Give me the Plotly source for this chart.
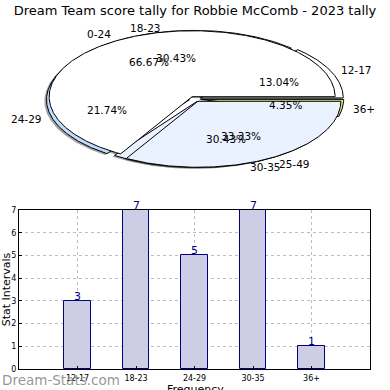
import numpy as np
import plotly.graph_objects as go

# ---------------- data ----------------
title_text = "Dream Team score tally for Robbie McComb - 2023 tally"
categories = ["12-17", "18-23", "24-29", "30-35", "36+"]
frequency = [3, 7, 5, 7, 1]
pie1_colors = ["#ffffff", "#ffffff", "#bfdcff", "#ebf2ff", "#d6ea78"]

pie2_labels = ["0-24", "25-49"]
pie2_values = [2, 1]
pie2_colors = ["#ffffff", "#ebf2ff"]

# ---------------- geometry (pixels) ----------------
CX, CY, A, B = 195.0, 99.0, 143.0, 66.0
EXPLODE = 0.04
FONT = "DejaVu Sans"

fig = go.Figure()


def pie_slices(values):
    vals = np.asarray(values, dtype=float)
    fr = vals / vals.sum()
    t = np.concatenate([[0.0], np.cumsum(fr)]) * 360.0
    out = []
    for i in range(len(vals)):
        t1, t2 = t[i], t[i + 1]
        tm = np.deg2rad((t1 + t2) / 2)
        cx = CX + EXPLODE * A * np.cos(tm)
        cy = CY - EXPLODE * B * np.sin(tm)
        out.append((t1, t2, tm, cx, cy, fr[i]))
    return out


def wedge_xy(cx, cy, t1, t2):
    th = np.deg2rad(np.linspace(t1, t2, max(int(abs(t2 - t1) * 2), 4)))
    xs = np.concatenate([[cx], cx + A * np.cos(th), [cx]])
    ys = np.concatenate([[cy], cy - B * np.sin(th), [cy]])
    return xs, ys


s1 = pie_slices(frequency)
s2 = pie_slices(pie2_values)

# shadows first
for sl in s1 + s2:
    t1, t2, tm, cx, cy, f = sl
    xs, ys = wedge_xy(cx - 0.015 * A, cy + 0.02 * B, t1, t2)
    fig.add_trace(go.Scatter(x=xs, y=ys, xaxis="x2", yaxis="y2", mode="lines",
                             fill="toself", fillcolor="rgba(70,70,70,0.5)",
                             line=dict(width=0), hoverinfo="skip", showlegend=False))

for sls, cols in ((s1, pie1_colors), (s2, pie2_colors)):
    for sl, col in zip(sls, cols):
        t1, t2, tm, cx, cy, f = sl
        xs, ys = wedge_xy(cx, cy, t1, t2)
        fig.add_trace(go.Scatter(x=xs, y=ys, xaxis="x2", yaxis="y2", mode="lines",
                                 fill="toself", fillcolor=col,
                                 line=dict(color="black", width=1),
                                 hoverinfo="skip", showlegend=False))

# labels (outer labels of first pie sit at the un-exploded centre)
for sls, labs, outer_from_center in ((s1, categories, True), (s2, pie2_labels, False)):
    for sl, lab in zip(sls, labs):
        t1, t2, tm, cx, cy, f = sl
        bx, by = (CX, CY) if outer_from_center else (cx, cy)
        lx = bx + 1.1 * A * np.cos(tm)
        ly = by - 1.1 * B * np.sin(tm)
        fig.add_annotation(x=lx, y=ly, xref="x2", yref="y2", text=lab, showarrow=False,
                           xanchor="left" if np.cos(tm) > 0 else "right", yanchor="middle",
                           font=dict(family=FONT, size=10.5, color="black"))
        px = cx + 0.6 * A * np.cos(tm)
        py = cy - 0.6 * B * np.sin(tm)
        fig.add_annotation(x=px, y=py, xref="x2", yref="y2", text=f"{f*100:.2f}%",
                           showarrow=False, xanchor="center", yanchor="middle",
                           font=dict(family=FONT, size=10.5, color="black"))

# ---------------- bar chart ----------------
fig.add_trace(go.Bar(x=categories, y=frequency, width=0.45,
                     marker=dict(color="#cdcde6", line=dict(color="#000080", width=1)),
                     showlegend=False, hoverinfo="skip"))
for c, v in zip(categories, frequency):
    fig.add_annotation(x=c, y=v, xref="x", yref="y", text=str(v), showarrow=False,
                       yanchor="bottom", yshift=-4,
                       font=dict(family=FONT, size=11, color="#000080"))

fig.add_annotation(x=0, y=10 / 390, xref="paper", yref="paper", text="Dream-Stats.com",
                   showarrow=False, xanchor="left", yanchor="middle",
                   font=dict(family=FONT, size=13.5, color="rgba(130,130,130,0.85)"))
fig.add_annotation(x=195 / 390, y=1 / 390, xref="paper", yref="paper", text="Frequency",
                   showarrow=False, xanchor="center", yanchor="middle",
                   font=dict(family=FONT, size=11, color="black"))

grid = dict(showgrid=True, gridcolor="#bdbdbd", griddash="dot", gridwidth=1)
fig.update_layout(
    width=390, height=390,
    margin=dict(l=0, r=0, t=0, b=0, autoexpand=False),
    paper_bgcolor="white", plot_bgcolor="rgba(0,0,0,0)",
    title=dict(text=title_text, x=0.5, xanchor="center", y=1 - 10 / 390, yanchor="middle",
               font=dict(family=FONT, size=13, color="black")),
    bargap=0,
    xaxis=dict(domain=[19 / 390, 370 / 390], anchor="y", type="category", range=[-1, 5],
               automargin=False,
               showline=True, linecolor="black", linewidth=1, mirror=True,
               ticks="inside", ticklen=3, tickcolor="black", ticklabelstandoff=1,
               tickfont=dict(family=FONT, size=8, color="black"),
               **grid),
    yaxis=dict(domain=[21 / 390, 180 / 390], anchor="x", range=[0, 7], dtick=1,
               automargin=False,
               showline=True, linecolor="black", linewidth=1, mirror=True,
               ticks="inside", ticklen=3, tickcolor="black",
               tickfont=dict(family=FONT, size=8, color="black"),
               title=dict(text="Stat Intervals", font=dict(family=FONT, size=11, color="black"), standoff=0),
               **grid),
    xaxis2=dict(domain=[0, 1], anchor="y2", range=[0, 390], visible=False, fixedrange=True,
                automargin=False),
    yaxis2=dict(domain=[0, 1], anchor="x2", range=[390, 0], visible=False, fixedrange=True,
                automargin=False),
)

fig.write_html("out.html", config={"displayModeBar": False},
               post_script="document.body.style.margin='0px';")
